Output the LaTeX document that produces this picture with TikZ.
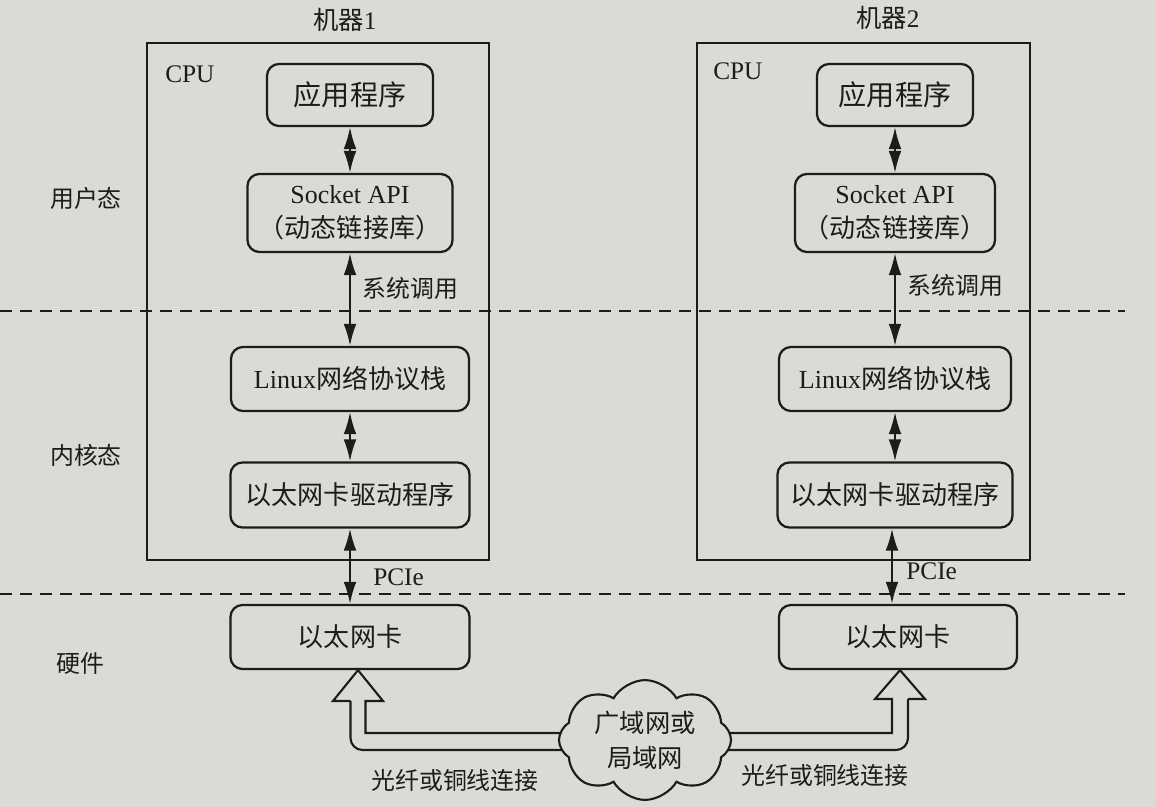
\documentclass[tikz,border=0pt]{standalone}
\usepackage{fontspec}
\setmainfont{Liberation Serif}
\newfontfamily\cjk{Noto Sans CJK SC}
\usetikzlibrary{arrows.meta,shapes.symbols,backgrounds}
\definecolor{paper}{RGB}{218,218,215}
\definecolor{ink}{RGB}{28,28,28}
\begin{document}
\begin{tikzpicture}[x=0.025cm,y=-0.025cm,
  every node/.style={font=\fontsize{18.5}{24}\selectfont, text=ink},
  sbox/.style={draw=ink, line width=1.6pt, rounded corners=0.3cm, inner sep=0pt, align=center},
  frame/.style={draw=ink, line width=1.5pt, inner sep=0pt},
  dbl/.style={draw=ink, line width=1.5pt, {Latex[length=0.55cm,width=0.32cm]}-{Latex[length=0.55cm,width=0.32cm]}},
  sep/.style={draw=ink, line width=1.2pt, dash pattern=on 8.5pt off 5.7pt},
  hollow/.style={draw=ink, line width=1.5pt, line join=miter},
  lbl/.style={font=\fontsize{17}{21}\selectfont\cjk, inner sep=0pt},
  tag/.style={font=\fontsize{18}{22}\selectfont, inner sep=0pt}
]
\useasboundingbox (0,0) rectangle (1156,807);
\begin{scope}[on background layer]
  \fill[paper] (0,0) rectangle (1156,807);
\end{scope}

% separators
\coordinate (s1a) at (0,311);
\coordinate (s1b) at (1125,311);
\coordinate (s2a) at (0,594);
\coordinate (s2b) at (1125,594);
\draw[sep] (s1a) -- (s1b);
\draw[sep] (s2a) -- (s2b);

% row labels
\node[lbl] (uland) at (86,198) {用户态};
\node[lbl] (kland) at (86,455) {内核态};
\node[lbl] (hw) at (80,663) {硬件};

% machine 1
\node[frame, minimum width=8.55cm, minimum height=12.925cm] (cpu1) at (318,301.5) {};
\node[tag, anchor=base west] (cpul1) at (165,83) {CPU};
\node[tag] (m1) at (345,20) {{\cjk 机器}1};
\node[sbox, minimum width=4.15cm, minimum height=1.55cm, font=\fontsize{20}{24}\selectfont\cjk] (app1) at (350,95) {应用程序};
\node[sbox, minimum width=5.125cm, minimum height=1.95cm] (sock1) at (350,213) {Socket API\\{\cjk （动态链接库）}};
\node[sbox, minimum width=5.95cm, minimum height=1.6cm] (lin1) at (350,379) {Linux{\cjk 网络协议栈}};
\node[sbox, minimum width=5.975cm, minimum height=1.625cm] (drv1) at (350,495) {\cjk 以太网卡驱动程序};
\node[sbox, minimum width=5.975cm, minimum height=1.6cm] (nic1) at (350,637) {\cjk 以太网卡};
\draw[dbl] (app1) -- (sock1);
\draw[dbl] (sock1) -- (lin1);
\draw[dbl] (lin1) -- (drv1);
\draw[dbl] (drv1) -- (nic1);
\node[lbl, anchor=west] (sys1) at (362,288) {系统调用};
\node[tag, anchor=west] (pci1) at (373,577) {PCIe};

% machine 2
\node[frame, minimum width=8.325cm, minimum height=12.925cm] (cpu2) at (863.5,301.5) {};
\node[tag, anchor=base west] (cpul2) at (713,80) {CPU};
\node[tag] (m2) at (888,18) {{\cjk 机器}2};
\node[sbox, minimum width=3.9cm, minimum height=1.55cm, font=\fontsize{20}{24}\selectfont\cjk] (app2) at (895,95) {应用程序};
\node[sbox, minimum width=5cm, minimum height=1.95cm] (sock2) at (895,213) {Socket API\\{\cjk （动态链接库）}};
\node[sbox, minimum width=5.8cm, minimum height=1.6cm] (lin2) at (895,379) {Linux{\cjk 网络协议栈}};
\node[sbox, minimum width=5.875cm, minimum height=1.625cm] (drv2) at (895,495) {\cjk 以太网卡驱动程序};
\node[sbox, minimum width=5.95cm, minimum height=1.6cm] (nic2) at (898,637) {\cjk 以太网卡};
\draw[dbl] (app2) -- (sock2);
\draw[dbl] (sock2) -- (lin2);
\draw[dbl] (lin2) -- (drv2);
\draw[dbl] ([xshift=-0.075cm]drv2.south) -- ([xshift=-0.075cm]drv2.south |- nic2.north);
\node[lbl, anchor=west] (sys2) at (907,285) {系统调用};
\node[tag, anchor=west] (pci2) at (906,571) {PCIe};

% cloud
\node[cloud, draw=ink, fill=paper, line width=1.5pt, cloud puffs=8, cloud puff arc=120, aspect=1.5,
      minimum width=4.3cm, minimum height=2.9cm, align=center, inner sep=0pt,
      font=\fontsize{18}{25}\selectfont\cjk] (net) at (645,740) {广域网或\\局域网};

\node[lbl] (link1) at (455,780) {光纤或铜线连接};
\node[lbl] (link2) at (825,775) {光纤或铜线连接};

% hollow arrows behind the cloud
\begin{scope}[on background layer]
  \draw[hollow] ([yshift=0.175cm]net.center) -- (365.5,733) -- (365.5,701) -- (383,701)
     -- ([xshift=0.2cm]nic1.south) -- (333,701) -- (350.5,701);
  \draw[hollow, rounded corners=0.3cm] (350.5,701) -- (350.5,750) -- ([yshift=-0.25cm]net.center);
  \draw[hollow] ([yshift=0.175cm]net.center) -- (892,733) -- (892,699) -- (875,699)
     -- ([xshift=0.05cm]nic2.south) -- (925,699) -- (908,699);
  \draw[hollow, rounded corners=0.3cm] (908,699) -- (908,750) -- ([yshift=-0.25cm]net.center);
\end{scope}
\end{tikzpicture}
\end{document}
